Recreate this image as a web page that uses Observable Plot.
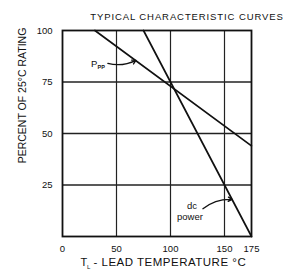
<!DOCTYPE html>
<html><head><meta charset="utf-8">
<script src="https://cdn.jsdelivr.net/npm/d3@7"></script>
<script src="https://cdn.jsdelivr.net/npm/@observablehq/plot@0.6"></script>
<style>body{margin:0;background:#fff;} svg{font-family:"Liberation Sans",Arial,sans-serif;}</style>
</head><body><div id="chart"></div>
<script>
const xTicks = [0, 50, 100, 150, 175];
const yTicks = [25, 50, 75, 100];
const xGrid = [50, 100, 150];
const yGrid = [25, 50, 75];
const pppTemp = [30, 175];
const pppPct = [100, 44];
const dcTemp = [75, 175];
const dcPct = [100, 0];

const titleText = "TYPICAL CHARACTERISTIC CURVES";
const xLabelText = "- LEAD TEMPERATURE °C";

const ppp = pppTemp.map((t, i) => ({t, p: pppPct[i]}));
const dc = dcTemp.map((t, i) => ({t, p: dcPct[i]}));

const chart = Plot.plot({
  width: 286, height: 275,
  marginLeft: 62, marginRight: 35, marginTop: 30, marginBottom: 39,
  style: {fontFamily: "Liberation Sans, Arial, sans-serif", fontSize: "9.5px", color: "#111", background: "#fff"},
  x: {domain: [0, 175], ticks: xTicks, tickSize: 0, tickPadding: 9, label: null},
  y: {domain: [0, 100], ticks: yTicks, tickSize: 0, tickPadding: 10, label: null},
  marks: [
    Plot.ruleX(xGrid, {stroke: "#222", strokeWidth: 1.2}),
    Plot.ruleY(yGrid, {stroke: "#222", strokeWidth: 1.4}),
    Plot.frame({stroke: "#111", strokeWidth: 1.8}),
    Plot.line(ppp, {x: "t", y: "p", stroke: "#111", strokeWidth: 1.7}),
    Plot.line(dc, {x: "t", y: "p", stroke: "#111", strokeWidth: 1.7}),
    Plot.text(["P"], {x: 26.5, y: 84, text: d => d, textAnchor: "start", fontSize: 9.5, fill: "#111"}),
    Plot.text(["PP"], {x: 32.5, y: 82.3, text: d => d, textAnchor: "start", fontSize: 5.5, fontWeight: "bold", fill: "#111"}),
    Plot.arrow([{x1: 42, y1: 84, x2: 68, y2: 85.5}], {x1: "x1", y1: "y1", x2: "x2", y2: "y2", bend: -20, stroke: "#111", strokeWidth: 1.3, headLength: 5}),
    Plot.text(["dc"], {x: 120, y: 15, text: d => d, fontSize: 9.5, fill: "#111"}),
    Plot.text(["power"], {x: 118, y: 9.5, text: d => d, fontSize: 9.5, fill: "#111"}),
    Plot.arrow([{x1: 130, y1: 13.5, x2: 157, y2: 18}], {x1: "x1", y1: "y1", x2: "x2", y2: "y2", bend: 20, stroke: "#111", strokeWidth: 1.3, headLength: 5}),
    Plot.text([titleText], {frameAnchor: "top", textAnchor: "middle", dx: 30, dy: -17.5, text: d => d, fontSize: 9.5, fill: "#111"}),
    Plot.text(["PERCENT OF 25°C RATING"], {frameAnchor: "left", textAnchor: "middle", dx: -40, dy: -38, rotate: -90, text: d => d, fontSize: 10.5, fill: "#111"}),
    Plot.text(["T"], {frameAnchor: "bottom", textAnchor: "start", dx: -76.5, dy: 29, text: d => d, fontSize: 11, fill: "#111"}),
    Plot.text(["L"], {frameAnchor: "bottom", textAnchor: "start", dx: -70, dy: 32.5, text: d => d, fontSize: 6, fill: "#111"}),
    Plot.text([xLabelText], {frameAnchor: "bottom", textAnchor: "start", dx: -63.5, dy: 29, text: d => d, fontSize: 11.5, fill: "#111"})
  ]
});
d3.select(chart).selectAll("text").each(function() {
  const t = this.textContent;
  if (t === titleText) d3.select(this).attr("letter-spacing", "0.9px");
  if (t === xLabelText) d3.select(this).attr("letter-spacing", "0.5px");
});
document.getElementById("chart").appendChild(chart);
</script>
</body></html>
